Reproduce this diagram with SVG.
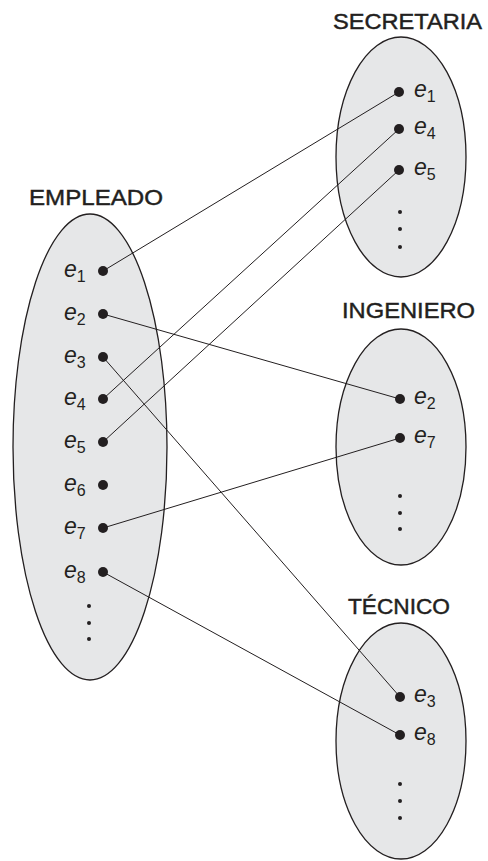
<svg xmlns="http://www.w3.org/2000/svg" width="488" height="861" viewBox="0 0 488 861">
<style>
.set{fill:#e6e7e8;stroke:#231f20;stroke-width:1.3}
.title{font-family:"Liberation Sans",Arial,sans-serif;font-size:22px;fill:#231f20;stroke:#231f20;stroke-width:0.45;text-anchor:middle}
.lbl{font-family:"Liberation Sans",Arial,sans-serif;font-size:23px;fill:#231f20;font-style:italic}
.sub{font-size:16px;font-style:normal}
.dot{fill:#231f20}
.conn line{stroke:#231f20;stroke-width:1}
</style>
<rect width="488" height="861" fill="#fff"/>
<g id="empleado">
<ellipse class="set" cx="90" cy="447" rx="77" ry="233"/>
<text class="title" x="96" y="205" textLength="134" lengthAdjust="spacingAndGlyphs">EMPLEADO</text>
<text class="lbl" x="64" y="277">e<tspan class="sub" dy="5">1</tspan></text>
<text class="lbl" x="64" y="320">e<tspan class="sub" dy="5">2</tspan></text>
<text class="lbl" x="64" y="363">e<tspan class="sub" dy="5">3</tspan></text>
<text class="lbl" x="64" y="405">e<tspan class="sub" dy="5">4</tspan></text>
<text class="lbl" x="64" y="448">e<tspan class="sub" dy="5">5</tspan></text>
<text class="lbl" x="64" y="491">e<tspan class="sub" dy="5">6</tspan></text>
<text class="lbl" x="64" y="534">e<tspan class="sub" dy="5">7</tspan></text>
<text class="lbl" x="64" y="578">e<tspan class="sub" dy="5">8</tspan></text>
<circle class="dot" cx="103" cy="271" r="5"/>
<circle class="dot" cx="103" cy="314" r="5"/>
<circle class="dot" cx="103" cy="357" r="5"/>
<circle class="dot" cx="103" cy="399" r="5"/>
<circle class="dot" cx="103" cy="442" r="5"/>
<circle class="dot" cx="103" cy="485" r="5"/>
<circle class="dot" cx="103" cy="528" r="5"/>
<circle class="dot" cx="103" cy="572" r="5"/>
<circle class="dot" cx="89" cy="606" r="2"/>
<circle class="dot" cx="89" cy="623" r="2"/>
<circle class="dot" cx="89" cy="639" r="2"/>
</g>
<g id="secretaria">
<ellipse class="set" cx="401" cy="157" rx="65" ry="120"/>
<text class="title" x="407.5" y="29" textLength="149" lengthAdjust="spacingAndGlyphs">SECRETARIA</text>
<text class="lbl" x="414" y="97">e<tspan class="sub" dy="5">1</tspan></text>
<text class="lbl" x="414" y="134">e<tspan class="sub" dy="5">4</tspan></text>
<text class="lbl" x="414" y="175">e<tspan class="sub" dy="5">5</tspan></text>
<circle class="dot" cx="399" cy="92" r="5"/>
<circle class="dot" cx="399" cy="129" r="5"/>
<circle class="dot" cx="399" cy="170" r="5"/>
<circle class="dot" cx="400" cy="212" r="2"/>
<circle class="dot" cx="400" cy="229" r="2"/>
<circle class="dot" cx="400" cy="247" r="2"/>
</g>
<g id="ingeniero">
<ellipse class="set" cx="401" cy="447" rx="65" ry="118"/>
<text class="title" x="408.5" y="318" textLength="133" lengthAdjust="spacingAndGlyphs">INGENIERO</text>
<text class="lbl" x="414" y="404">e<tspan class="sub" dy="5">2</tspan></text>
<text class="lbl" x="414" y="443">e<tspan class="sub" dy="5">7</tspan></text>
<circle class="dot" cx="400" cy="399" r="5"/>
<circle class="dot" cx="400" cy="438" r="5"/>
<circle class="dot" cx="400" cy="496" r="2"/>
<circle class="dot" cx="400" cy="513" r="2"/>
<circle class="dot" cx="400" cy="529" r="2"/>
</g>
<g id="tecnico">
<ellipse class="set" cx="401" cy="741" rx="65" ry="118"/>
<text class="title" x="399" y="614" textLength="102" lengthAdjust="spacingAndGlyphs">TÉCNICO</text>
<text class="lbl" x="414" y="702">e<tspan class="sub" dy="5">3</tspan></text>
<text class="lbl" x="414" y="740">e<tspan class="sub" dy="5">8</tspan></text>
<circle class="dot" cx="400" cy="697" r="5"/>
<circle class="dot" cx="400" cy="735" r="5"/>
<circle class="dot" cx="400" cy="784" r="2"/>
<circle class="dot" cx="400" cy="801" r="2"/>
<circle class="dot" cx="400" cy="818" r="2"/>
</g>
<g id="connectors" class="conn">
<line x1="103" y1="271" x2="399" y2="92"/>
<line x1="103" y1="314" x2="400" y2="399"/>
<line x1="103" y1="357" x2="400" y2="697"/>
<line x1="103" y1="399" x2="399" y2="129"/>
<line x1="103" y1="442" x2="399" y2="170"/>
<line x1="103" y1="528" x2="400" y2="438"/>
<line x1="103" y1="572" x2="400" y2="735"/>
</g>
</svg>
